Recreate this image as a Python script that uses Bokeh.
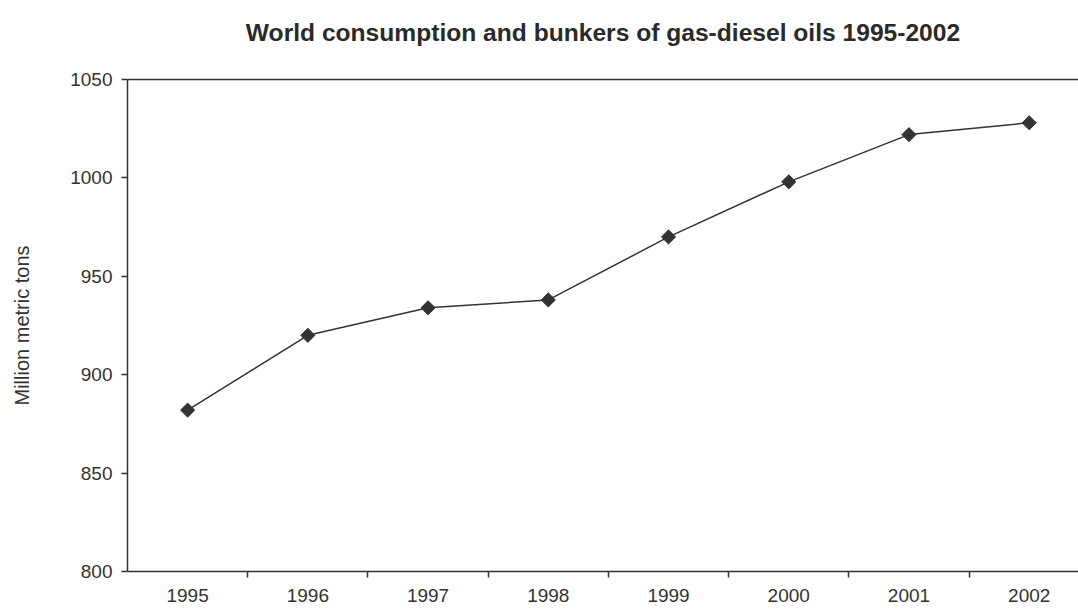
import math
from bokeh.plotting import figure
from bokeh.models import FixedTicker, Range1d, LinearAxis
from bokeh.embed import file_html
from bokeh.resources import INLINE

title_text = "World consumption and bunkers of gas-diesel oils 1995-2002"
years = ["1995", "1996", "1997", "1998", "1999", "2000", "2001", "2002"]
consumption = [882, 920, 934, 938, 970, 998, 1022, 1028]
y_ticks = [800, 850, 900, 950, 1000, 1050]

xs = list(range(1, len(years) + 1))

p = figure(width=1078, height=612, output_backend="svg", toolbar_location=None,
           x_range=Range1d(0.5, 8.41), y_range=Range1d(800, 1050))
p.min_border_left = 127
p.min_border_right = 0
p.min_border_top = 79
p.min_border_bottom = 41
p.outline_line_color = None
p.background_fill_color = "white"
p.border_fill_color = "white"
p.grid.grid_line_color = None

# x axis
p.xaxis.ticker = FixedTicker(ticks=xs, minor_ticks=[x + 0.5 for x in xs[:-1]])
p.xaxis.major_label_overrides = {x: y for x, y in zip(xs, years)}
p.xaxis.major_tick_out = 0
p.xaxis.major_tick_in = 0
p.xaxis.minor_tick_out = 6
p.xaxis.minor_tick_in = 0
p.xaxis.minor_tick_line_color = "#333333"
p.xaxis.minor_tick_line_width = 1.5
p.xaxis.major_label_standoff = 11

# y axis
p.yaxis.ticker = FixedTicker(ticks=y_ticks, minor_ticks=[])
p.yaxis.major_tick_out = 6
p.yaxis.major_tick_in = 0
p.yaxis.major_tick_line_color = "#333333"
p.yaxis.major_tick_line_width = 1.5
p.yaxis.major_label_standoff = 9
p.yaxis.axis_label = "Million metric tons"
p.yaxis.axis_label_text_font = "Liberation Sans"
p.yaxis.axis_label_text_font_style = "normal"
p.yaxis.axis_label_text_font_size = "20px"
p.yaxis.axis_label_text_color = "#333333"
p.yaxis.axis_label_standoff = 34

for ax in (p.xaxis, p.yaxis):
    ax.axis_line_color = "#333333"
    ax.axis_line_width = 1.5
    ax.major_label_text_font = "Liberation Sans"
    ax.major_label_text_font_size = "19px"
    ax.major_label_text_color = "#333333"

# top border line carrying the chart title
top = LinearAxis(ticker=FixedTicker(ticks=[], minor_ticks=[]), axis_label=title_text)
top.axis_line_color = "#333333"
top.axis_line_width = 1.5
top.major_tick_out = 0
top.major_tick_in = 0
top.minor_tick_out = 0
top.minor_tick_in = 0
top.major_label_standoff = 0
top.axis_label_standoff = 34
top.axis_label_text_font = "Liberation Sans"
top.axis_label_text_font_style = "bold"
top.axis_label_text_font_size = "24.6px"
top.axis_label_text_color = "#2a2a2a"
p.add_layout(top, "above")

p.line(xs, consumption, line_color="#333333", line_width=1.5)
p.scatter(xs, consumption, marker="square", angle=math.pi / 4, size=10,
          fill_color="#333333", line_color="#333333")

open("out.html", "w").write(file_html(p, INLINE))
